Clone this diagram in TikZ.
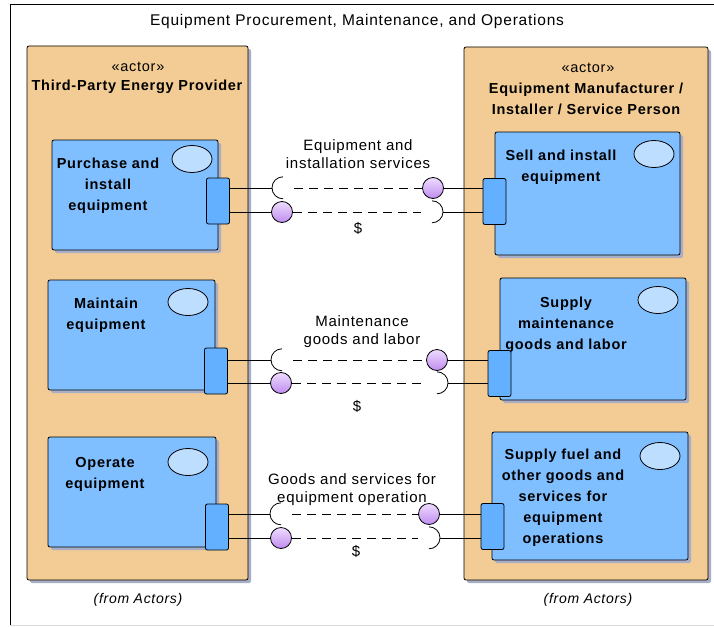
\documentclass[tikz,border=0pt]{standalone}
\usepackage{fontspec}
\setmainfont{Liberation Sans}[LetterSpace=5]
\usetikzlibrary{positioning, shapes.geometric, shadows}
\definecolor{actortan}{RGB}{242,204,148}
\definecolor{partblue}{RGB}{128,191,255}
\definecolor{portblue}{RGB}{98,176,255}
\definecolor{ovalblue}{RGB}{190,222,255}
\definecolor{shadowgray}{RGB}{168,174,198}
\definecolor{balltop}{RGB}{238,220,255}
\definecolor{ballbottom}{RGB}{192,140,240}
\tikzset{
    actor box/.style={rectangle, rounded corners=2pt, draw=black, line width=0.8pt, fill=actortan, inner sep=0pt, drop shadow={shadow xshift=3pt, shadow yshift=-3pt, fill=shadowgray, opacity=1}},
    part box/.style={rectangle, rounded corners=2pt, draw=black, line width=0.8pt, fill=partblue, inner sep=0pt, drop shadow={shadow xshift=3pt, shadow yshift=-3pt, fill=shadowgray, opacity=1}},
    port box/.style={rectangle, rounded corners=2pt, draw=black, line width=0.8pt, fill=portblue, minimum width=23pt, minimum height=46pt, inner sep=0pt},
    case oval/.style={ellipse, draw=black, line width=0.8pt, fill=ovalblue, minimum width=40pt, minimum height=27pt, inner sep=0pt},
    lolly ball/.style={circle, draw=black, line width=0.8pt, top color=balltop, bottom color=ballbottom, minimum size=21pt, inner sep=0pt},
    socket pt/.style={circle, minimum size=22pt, inner sep=0pt},
    part text/.style={font=\bfseries\fontsize{14.5}{21}\selectfont, align=center},
    actor text/.style={font=\fontsize{14.5}{21}\selectfont, align=center},
    flow text/.style={font=\fontsize{15}{18}\selectfont, align=center},
    wire/.style={line width=0.8pt},
    flow/.style={line width=0.8pt, dash pattern=on 9pt off 6pt},
}
\begin{document}
\begin{tikzpicture}[x=1pt, y={(0pt,-1pt)}]
\useasboundingbox (0,0) rectangle (714,626);
% frame
\draw[line width=0.8pt] (10,625) -- (10,4) -- (714,4);
\draw[gray!30, line width=0.8pt] (10,625) -- (714,625);
\node[font=\fontsize{15.5}{18}\selectfont] (title) at (357,21) {Equipment Procurement, Maintenance, and Operations};

% actors
\node[actor box, minimum width=221pt, minimum height=534pt] (prov) at (137.5,313) {};
\node[actor box, minimum width=244pt, minimum height=533pt] (mfr) at (586,313.5) {};
\node[actor text] (provst) at (138,67) {«actor»};
\node[part text] (provname) at (137,87) {Third-Party Energy Provider};
\node[actor text] (mfrst) at (588,68) {«actor»};
\node[part text] (mfrname) at (586,98.5) {Equipment Manufacturer /\\Installer / Service Person};
\node[font=\itshape\fontsize{14}{16}\selectfont] (provfrom) at (138,600) {(from Actors)};
\node[font=\itshape\fontsize{14}{16}\selectfont] (mfrfrom) at (588,600) {(from Actors)};

% parts of the provider
\node[part box, minimum width=166pt, minimum height=110pt] (buy) at (135,195) {};
\node[part box, minimum width=167pt, minimum height=110pt] (keep) at (131.5,335) {};
\node[part box, minimum width=168pt, minimum height=110pt] (run) at (132,492) {};
\node[part text] (buytxt) at (108,186) {Purchase and\\install\\equipment};
\node[part text] (keeptxt) at (106,315) {Maintain\\equipment};
\node[part text] (runtxt) at (105,474) {Operate\\equipment};
\node[case oval] (buyuc) at (192,159) {};
\node[case oval] (keepuc) at (188,302) {};
\node[case oval] (runuc) at (188,462) {};

% parts of the manufacturer
\node[part box, minimum width=185pt, minimum height=123pt] (sell) at (587.5,193.5) {};
\node[part box, minimum width=186pt, minimum height=122pt] (supply) at (593,339) {};
\node[part box, minimum width=196pt, minimum height=128pt] (fuel) at (590,496) {};
\node[part text] (selltxt) at (561,167) {Sell and install\\equipment};
\node[part text] (supplytxt) at (566,325) {Supply\\maintenance\\goods and labor};
\node[part text] (fueltxt) at (563,498) {Supply fuel and\\other goods and\\services for\\equipment\\operations};
\node[case oval] (selluc) at (654,154) {};
\node[case oval] (supplyuc) at (658,300) {};
\node[case oval] (fueluc) at (660,456) {};

% ports
\node[port box] (pbuy) at (218,201) {};
\node[port box] (pkeep) at (216,371) {};
\node[port box] (prun) at (217,527) {};
\node[port box] (psell) at (494.5,201.5) {};
\node[port box] (psupply) at (499.5,373.5) {};
\node[port box] (pfuel) at (492.5,526.5) {};

% sockets and balls
\node[socket pt] (skL1) at (283,188) {};
\node[lolly ball] (blR1) at (433,188) {};
\node[lolly ball] (blL1) at (282,212) {};
\node[socket pt] (skR1) at (432,212) {};
\node[socket pt] (skL2) at (282,360) {};
\node[lolly ball] (blR2) at (437,360) {};
\node[lolly ball] (blL2) at (281,383) {};
\node[socket pt] (skR2) at (437,383) {};
\node[socket pt] (skL3) at (281,514) {};
\node[lolly ball] (blR3) at (429,514) {};
\node[lolly ball] (blL3) at (281,538) {};
\node[socket pt] (skR3) at (429,538) {};

% equipment and installation
\draw[wire] (pbuy.east |- skL1) -- (skL1.west);
\draw[wire] (skL1.north) arc[start angle=90, end angle=270, radius=11pt];
\draw[flow] (skL1.east) -- (blR1.west);
\draw[wire] (blR1.east) -- (psell.west |- blR1);
\draw[wire] (pbuy.east |- blL1) -- (blL1.west);
\draw[flow] (blL1.east) -- (skR1.west);
\draw[wire] (skR1.north) arc[start angle=90, end angle=-90, radius=11pt];
\draw[wire] (skR1.east) -- (psell.west |- skR1);
\node[flow text] (lbl1) at (358,154) {Equipment and\\installation services};
\node[flow text] (pay1) at (358,228) {\$};

% maintenance
\draw[wire] (pkeep.east |- skL2) -- (skL2.west);
\draw[wire] (skL2.north) arc[start angle=90, end angle=270, radius=11pt];
\draw[flow] (skL2.east) -- (blR2.west);
\draw[wire] (blR2.east) -- (psupply.west |- blR2);
\draw[wire] (pkeep.east |- blL2) -- (blL2.west);
\draw[flow] (blL2.east) -- (skR2.west);
\draw[wire] (skR2.north) arc[start angle=90, end angle=-90, radius=11pt];
\draw[wire] (skR2.east) -- (psupply.west |- skR2);
\node[flow text] (lbl2) at (362,332) {Maintenance\\goods and labor};
\node[flow text] (pay2) at (357,406) {\$};

% operation
\draw[wire] (prun.east |- skL3) -- (skL3.west);
\draw[wire] (skL3.north) arc[start angle=90, end angle=270, radius=11pt];
\draw[flow] (skL3.east) -- (blR3.west);
\draw[wire] (blR3.east) -- (pfuel.west |- blR3);
\draw[wire] (prun.east |- blL3) -- (blL3.west);
\draw[flow] (blL3.east) -- (skR3.west);
\draw[wire] (skR3.north) arc[start angle=90, end angle=-90, radius=11pt];
\draw[wire] (skR3.east) -- (pfuel.west |- skR3);
\node[flow text] (lbl3) at (352,490) {Goods and services for\\equipment operation};
\node[flow text] (pay3) at (356,551) {\$};
\end{tikzpicture}
\end{document}
